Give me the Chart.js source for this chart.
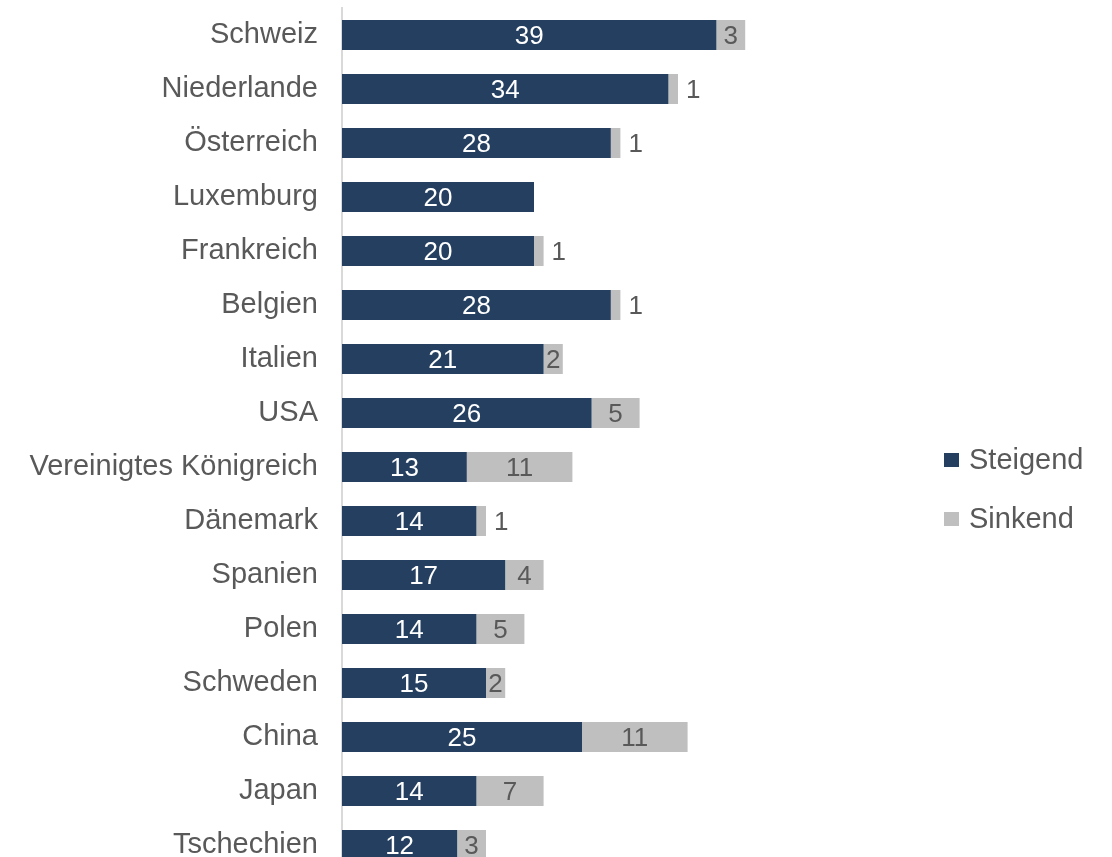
<!DOCTYPE html>
<html lang="de">
<head>
<meta charset="utf-8">
<title>Steigend / Sinkend</title>
<script src="https://cdn.jsdelivr.net/npm/chart.js@4/dist/chart.umd.min.js"></script>
<style>
  html, body { margin: 0; padding: 0; background: #fff; overflow: hidden; }
  #chart { display: block; }
</style>
</head>
<body>
<canvas id="chart" width="1112" height="872"></canvas>
<script>
// --------------------------------------------------- DATA
const countries = ['Schweiz', 'Niederlande', 'Österreich', 'Luxemburg', 'Frankreich', 'Belgien', 'Italien', 'USA',
  'Vereinigtes Königreich', 'Dänemark', 'Spanien', 'Polen', 'Schweden', 'China', 'Japan', 'Tschechien']
const steigend = [39, 34, 28, 20, 20, 28, 21, 26, 13, 14, 17, 14, 15, 25, 14, 12]
const sinkend = [3, 1, 1, null, 1, 1, 2, 5, 11, 1, 4, 5, 2, 11, 7, 3]

// --------------------------------------------------- STYLE
const fontFamily = '"Liberation Sans", Arial, sans-serif'
const textGray = '#595959'
const navy = '#243F60'
const lightGray = '#BFBFBF'

// values written on the bars; a "1" doesn't fit so it goes right of the bar
const barLabels = {
  id: 'barLabels',
  afterDatasetsDraw(chart) {
    const ctx = chart.ctx
    ctx.save()
    ctx.font = '26px ' + fontFamily
    ctx.textBaseline = 'middle'
    chart.data.datasets.forEach((ds, i) => {
      const meta = chart.getDatasetMeta(i)
      meta.data.forEach((bar, j) => {
        const v = ds.data[j]
        if (!v) return
        ctx.fillStyle = i === 0 ? '#ffffff' : textGray
        if (v < 2) {
          ctx.textAlign = 'left'
          ctx.fillText(v, bar.x + 8, bar.y + 2)
        } else {
          ctx.textAlign = 'center'
          ctx.fillText(v, (bar.x + bar.base) / 2, bar.y + 2)
        }
      })
    })
    ctx.restore()
  }
}

// legend on the right, two rows
const sideLegend = {
  id: 'sideLegend',
  afterDraw(chart) {
    const ctx = chart.ctx
    const rows = [460, 519]
    ctx.save()
    ctx.font = '29px ' + fontFamily
    ctx.textBaseline = 'middle'
    ctx.textAlign = 'left'
    chart.data.datasets.forEach((ds, i) => {
      ctx.fillStyle = ds.backgroundColor
      ctx.fillRect(944, rows[i] - 7, 15, 14)
      ctx.fillStyle = textGray
      ctx.fillText(ds.label, 969, rows[i] + 1)
    })
    ctx.restore()
  }
}

const chart = new Chart(document.getElementById('chart'), {
  type: 'bar',
  data: {
    labels: countries,
    datasets: [
      { label: 'Steigend', data: steigend, backgroundColor: navy },
      { label: 'Sinkend', data: sinkend, backgroundColor: lightGray }
    ]
  },
  options: {
    indexAxis: 'y',
    responsive: false,
    animation: false,
    layout: { padding: { top: 8, right: 194, bottom: 0, left: 0 } },
    datasets: { bar: { categoryPercentage: 1, barPercentage: 0.556 } },
    scales: {
      x: { stacked: true, min: 0, max: 60, display: false },
      y: {
        stacked: true,
        afterFit: (scale) => {
          scale.width = 342
          scale.paddingTop = 0
          scale.paddingBottom = 0
        },
        grid: { display: false, drawTicks: false },
        border: { display: true, color: '#D9D9D9', width: 2 },
        ticks: { color: textGray, padding: 24, font: { family: fontFamily, size: 29 } }
      }
    },
    plugins: {
      legend: { display: false },
      tooltip: { enabled: false }
    }
  },
  plugins: [barLabels, sideLegend]
})
</script>
</body>
</html>
